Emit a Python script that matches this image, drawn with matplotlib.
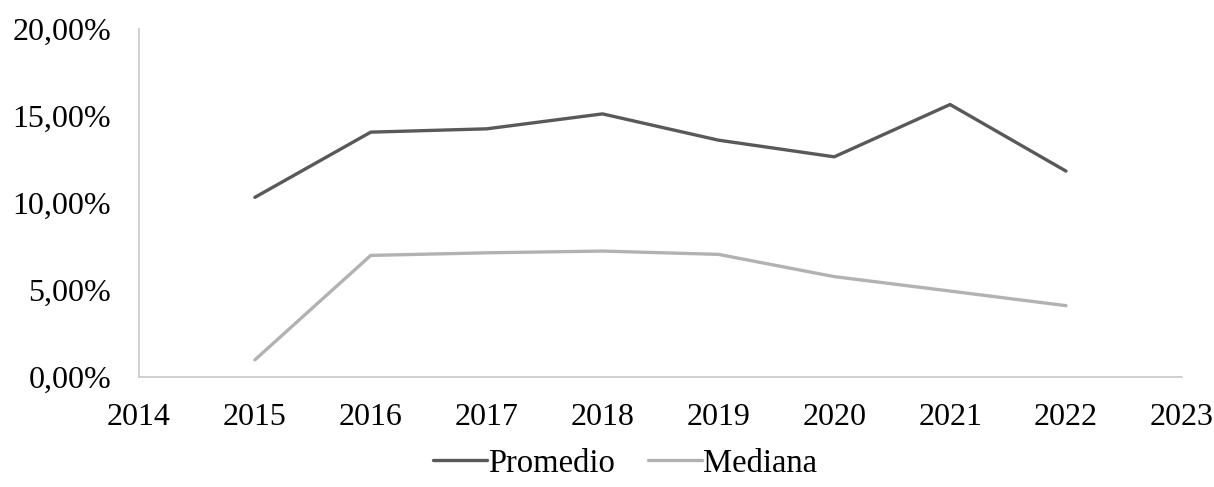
import matplotlib
matplotlib.use("Agg")
import matplotlib.pyplot as plt
from matplotlib.ticker import FuncFormatter, MultipleLocator

years = [2015, 2016, 2017, 2018, 2019, 2020, 2021, 2022]
promedio = [10.33, 14.08, 14.27, 15.13, 13.62, 12.66, 15.67, 11.84]
mediana = [0.98, 6.99, 7.14, 7.24, 7.05, 5.77, 4.94, 4.10]
series_names = ["Promedio", "Mediana"]

plt.rcParams['font.family'] = ['Liberation Serif', 'DejaVu Serif']

fig = plt.figure(figsize=(12.14, 4.87), dpi=100)
ax = fig.add_axes([0.1145, 0.226, 0.859, 0.714])

ax.plot(years, promedio, color='#595959', lw=2.4, solid_capstyle='round', label=series_names[0])
ax.plot(years, mediana, color='#b2b2b2', lw=2.4, solid_capstyle='round', label=series_names[1])

ax.set_xlim(2014, 2023)
ax.set_ylim(0, 20)
ax.xaxis.set_major_locator(MultipleLocator(1))
ax.yaxis.set_major_locator(MultipleLocator(5))
ax.yaxis.set_major_formatter(FuncFormatter(lambda v, p: f"{v:.2f}%".replace('.', ',')))
ax.xaxis.set_major_formatter(FuncFormatter(lambda v, p: f"{int(round(v))}"))

for s in ['top', 'right']:
    ax.spines[s].set_visible(False)
for s in ['left', 'bottom']:
    ax.spines[s].set_color('#c8c8c8')
    ax.spines[s].set_linewidth(1.2)

ax.tick_params(axis='both', length=0, labelsize=23, colors='black')
ax.tick_params(axis='y', pad=20)
ax.tick_params(axis='x', pad=19)

leg = fig.legend(loc='center', bbox_to_anchor=(0.515, 0.048), ncol=2, frameon=False,
                 fontsize=23.5, handlelength=1.65, handletextpad=0.05, columnspacing=1.0)

fig.savefig("out.png", dpi=100)
